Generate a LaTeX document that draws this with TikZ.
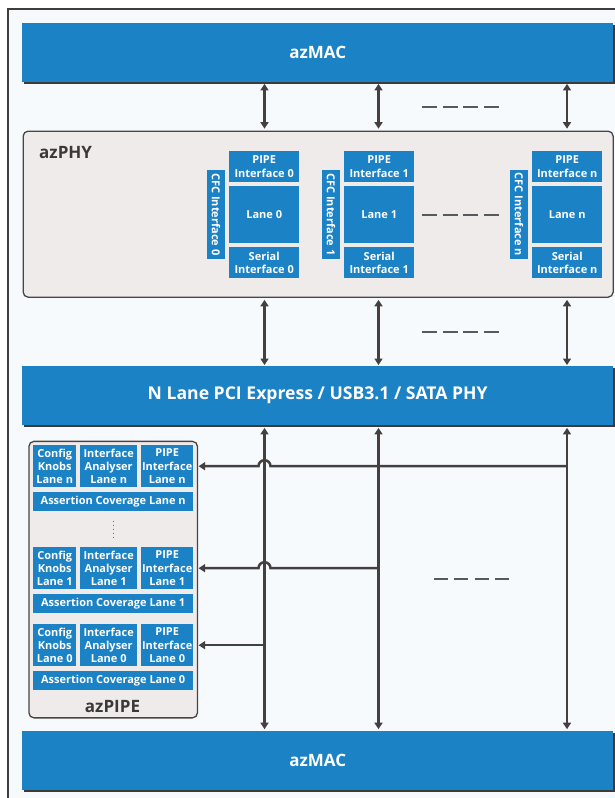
\documentclass[tikz,border=0pt]{standalone}
\usepackage{fontspec}
\setmainfont{Open Sans}
\usetikzlibrary{arrows.meta,shadows}
\definecolor{azblue}{HTML}{1B82C6}
\definecolor{bgcol}{HTML}{F6FAFC}
\definecolor{framecol}{HTML}{3E3E3E}
\definecolor{groupfill}{HTML}{EFEBEA}
\definecolor{bordercol}{HTML}{474545}
\definecolor{shadowcol}{HTML}{3C3A3A}
\definecolor{arrowcol}{HTML}{463F40}
\definecolor{dashcol}{HTML}{555A5E}
\definecolor{labelcol}{HTML}{3A3838}
\definecolor{dotcol}{HTML}{6E6A6A}
\tikzset{
  bar/.style={fill=azblue, text=white, font=\bfseries\fontsize{17}{20}\selectfont, inner sep=0pt,
    anchor=north west, minimum width=591pt, minimum height=59pt,
    drop shadow={shadow xshift=2pt, shadow yshift=-2pt, fill=shadowcol, opacity=1}},
  bbox/.style={fill=azblue, text=white, font=\bfseries\fontsize{11}{13.3}\selectfont,
    inner sep=0pt, align=center, anchor=north west},
  groupbox/.style={draw=bordercol, line width=1.3pt, fill=groupfill, rounded corners=5pt,
    inner sep=0pt, anchor=north west},
  conn/.style={draw=arrowcol, line width=2.5pt},
  tip/.style={arrows={-{Triangle[width=8pt,length=6.5pt]}}},
  tips/.style={arrows={{Triangle[width=8pt,length=6.5pt]}-{Triangle[width=8pt,length=6.5pt]}}},
  dashline/.style={draw=dashcol, line width=2pt, dash pattern=on 15pt off 5.7pt},
  lbl/.style={text=labelcol, font=\bfseries\fontsize{17}{20}\selectfont, inner sep=0pt}
}
\newcommand\phylane[3]{%
  \node[bbox, minimum width=70pt, minimum height=31pt] (pipe#1) at (#2,151) {PIPE\\Interface #3};
  \node[bbox, minimum width=70pt, minimum height=57pt] (lane#1) at (#2,186) {Lane #3};
  \node[bbox, minimum width=70pt, minimum height=31pt] (serial#1) at (#2,247) {Serial\\Interface #3};
  \node[bbox, anchor=center, rotate=-90, minimum width=89pt, minimum height=18pt] (cfc#1) at (#2-13,214.5) {CFC Interface #3};
}
\newcommand\piperow[3]{%
  \node[bbox, minimum width=43pt, minimum height=42pt] (knob#1) at (33,#2) {Config\\Knobs\\Lane #3};
  \node[bbox, minimum width=57pt, minimum height=42pt] (ana#1) at (80,#2) {Interface\\Analyser\\Lane #3};
  \node[bbox, minimum width=52pt, minimum height=42pt] (ppi#1) at (141,#2) {PIPE\\Interface\\Lane #3};
  \node[bbox, minimum width=160pt, minimum height=18.5pt] (asrt#1) at (33,#2+47) {Assertion Coverage Lane #3};
}
\begin{document}
\begin{tikzpicture}[x=1pt,y=-1pt]
\useasboundingbox (0,0) rectangle (615,798);
\fill[white] (0,0) rectangle (615,798);
\draw[framecol, line width=1.3pt, fill=bgcol] (8,9) rectangle (640,830);

% bars
\node[bar] (mac1) at (22,23) {azMAC};
\node[bar, font=\bfseries\fontsize{17.6}{20}\selectfont] (phy) at (22,366) {N Lane PCI Express / USB3.1 / SATA PHY};
\node[bar] (mac2) at (22,731) {azMAC};

% azPHY
\node[groupbox, minimum width=590pt, minimum height=166pt] (azphy) at (22.5,130.5) {};
\node[lbl, anchor=base west] (phylbl) at (39,158) {azPHY};
\phylane{0}{229}{0}
\phylane{1}{344}{1}
\phylane{n}{532}{n}

% azPIPE
\node[groupbox, minimum width=168.5pt, minimum height=276.5pt] (azpipe) at (28.3,440.7) {};
\piperow{n}{445}{n}
\piperow{1}{547}{1}
\piperow{0}{624}{0}
\node[lbl, anchor=base] (pipelbl) at (112.5,712) {azPIPE};
\draw[draw=dotcol, line width=1.5pt, dash pattern=on 1.5pt off 2.4pt] (asrtn.south -| knobn.east) ++(37,10) -- ++(0,18);

% lane x positions
\coordinate (xa) at (264.5,0);
\coordinate (xb) at (378.5,0);
\coordinate (xc) at (567,0);

% vertical arrows
\foreach \c in {xa,xb,xc}{
  \draw[conn, tips, shorten <=1.5pt, shorten >=1.8pt] (mac1.south -| \c) -- (azphy.north -| \c);
  \draw[conn, tips, shorten <=2pt, shorten >=1pt] (azphy.south -| \c) -- (phy.north -| \c);
  \draw[conn, tips, shorten <=2.5pt, shorten >=1.8pt] (phy.south -| \c) -- (mac2.north -| \c);
}

% lane connectors to azPIPE
\draw[conn, tip] (ppin.east -| xc) -- ([xshift=6pt]ppin.east -| xa)
  arc[start angle=0, end angle=180, radius=6pt] -- ([xshift=0.5pt]ppin.east -| azpipe.east);
\draw[conn, tip] (ppi1.east -| xb) -- ([xshift=6pt]ppi1.east -| xa)
  arc[start angle=0, end angle=180, radius=6pt] -- ([xshift=0.5pt]ppi1.east -| azpipe.east);
\draw[conn, tip] (ppi0.east -| xa) -- ([xshift=0.5pt]ppi0.east -| azpipe.east);

% ellipsis dashes
\coordinate (d1) at (422,107.3);
\coordinate (d2) at (422,214.7);
\coordinate (d3) at (422,332.3);
\draw[dashline] (d1) -- ++(77,0);
\draw[dashline] (d2) -- ++(77,0);
\draw[dashline] (d3) -- ++(77,0);
\coordinate (d4) at (434,578.7);
\draw[dashline, line width=1.6pt, dash pattern=on 14pt off 6.3pt] (d4) -- ++(78,0);
\end{tikzpicture}
\end{document}
